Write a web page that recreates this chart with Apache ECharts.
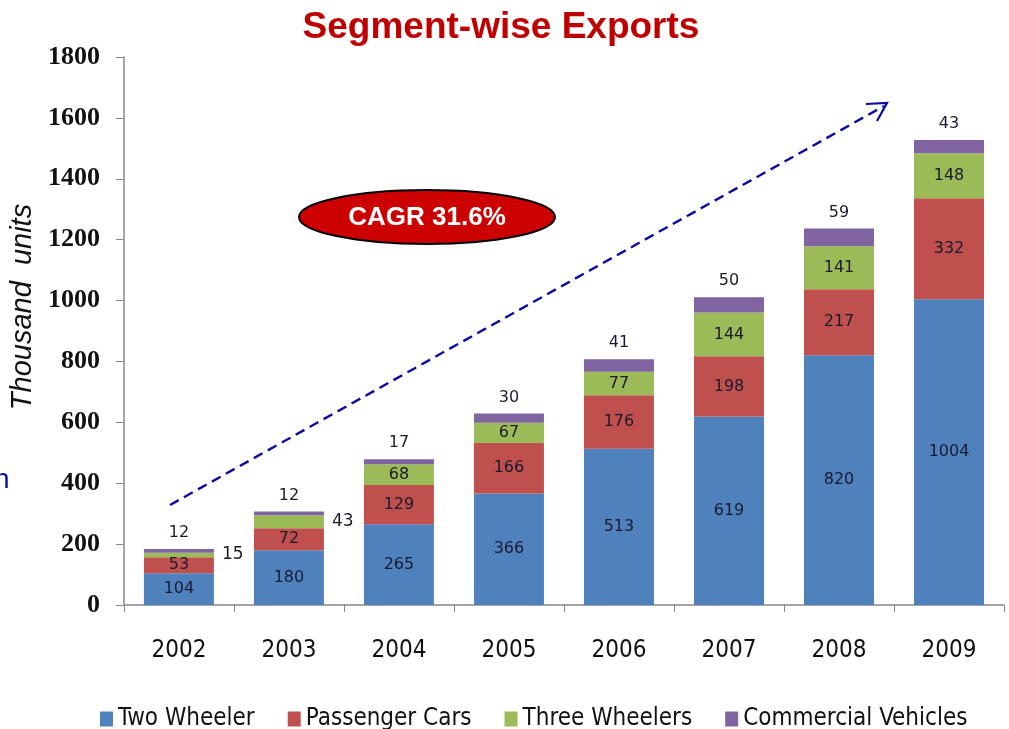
<!DOCTYPE html>
<html>
<head>
<meta charset="utf-8">
<script src="https://cdn.jsdelivr.net/npm/echarts@6/dist/echarts.min.js"></script>
<style>
html, body { margin: 0; padding: 0; background: #fff; }
#chart { width: 1009px; height: 729px; }
</style>
</head>
<body>
<div id="chart"></div>
<script>
var years = ['2002', '2003', '2004', '2005', '2006', '2007', '2008', '2009'];
var twoWheeler = [104, 180, 265, 366, 513, 619, 820, 1004];
var passengerCars = [53, 72, 129, 166, 176, 198, 217, 332];
var threeWheelers = [15, 43, 68, 67, 77, 144, 141, 148];
var commercialVehicles = [12, 12, 17, 30, 41, 50, 59, 43];

var COLORS = ['#4f81bd', '#c0504d', '#9bbb59', '#8064a2'];
var LABEL_COLOR = '#1a1a2e';

function insideLabel() {
	return {
		show: true,
		position: 'inside',
		color: LABEL_COLOR,
		fontFamily: 'DejaVu Sans',
		fontSize: 16
	};
}

// three wheelers: the two small early bars carry their label on the right
var threeData = threeWheelers.map(function(v, i) {
	var item = { value: v };
	if (i < 2) {
		item.label = { position: 'right', distance: 8, fontSize: 17 };
	}
	return item;
});

var chart = echarts.init(document.getElementById('chart'));
chart.setOption({
	animation: false,
	color: COLORS,
	title: {
		text: 'Segment-wise Exports',
		left: 496,
		top: 4,
		textAlign: 'center',
		textStyle: {
			color: '#c00000',
			fontFamily: 'Liberation Sans',
			fontWeight: 'bold',
			fontSize: 37
		}
	},
	legend: {
		top: 702,
		left: 95,
		itemWidth: 13,
		itemHeight: 15,
		itemGap: 33,
		icon: 'rect',
		textStyle: {
			fontFamily: 'DejaVu Sans Condensed',
			fontSize: 24,
			color: '#111'
		},
		data: ['Two Wheeler', 'Passenger Cars', 'Three Wheelers', 'Commercial Vehicles']
	},
	grid: {
		left: 122,
		right: 5,
		top: 57,
		bottom: 124
	},
	xAxis: {
		type: 'category',
		data: years,
		axisLine: { lineStyle: { color: '#888', width: 1.5 } },
		axisTick: { show: true, length: 7, lineStyle: { color: '#888' } },
		axisLabel: {
			margin: 34,
			color: '#111',
			fontFamily: 'DejaVu Sans Condensed',
			fontSize: 24
		}
	},
	yAxis: {
		type: 'value',
		min: 0,
		max: 1800,
		interval: 200,
		name: 'Thousand  units',
		nameLocation: 'middle',
		nameGap: 74,
		nameRotate: 90,
		nameTextStyle: {
			fontFamily: 'Liberation Sans',
			fontStyle: 'italic',
			fontSize: 29,
			color: '#111',
			padding: [0, 0, 0, 48]
		},
		axisLine: { show: true, lineStyle: { color: '#888', width: 1.5 } },
		axisTick: { show: true, inside: false, length: 8, lineStyle: { color: '#888' } },
		splitLine: { show: false },
		axisLabel: {
			margin: 24,
			color: '#111',
			fontFamily: 'Liberation Serif',
			fontWeight: 'bold',
			fontSize: 26,
			formatter: function(v) { return String(v); }
		}
	},
	series: [
		{
			name: 'Two Wheeler',
			type: 'bar',
			stack: 'total',
			barWidth: 70,
			label: insideLabel(),
			data: twoWheeler
		},
		{
			name: 'Passenger Cars',
			type: 'bar',
			stack: 'total',
			label: insideLabel(),
			data: passengerCars
		},
		{
			name: 'Three Wheelers',
			type: 'bar',
			stack: 'total',
			label: insideLabel(),
			data: threeData
		},
		{
			name: 'Commercial Vehicles',
			type: 'bar',
			stack: 'total',
			label: {
				show: true,
				position: 'top',
				distance: 8,
				color: LABEL_COLOR,
				fontFamily: 'DejaVu Sans',
				fontSize: 16
			},
			data: commercialVehicles
		}
	],
	graphic: [
		{
			type: 'line',
			z: 100,
			shape: { x1: 170, y1: 505, x2: 884, y2: 106 },
			style: { stroke: '#0a0aa0', lineWidth: 2.4, lineDash: [10, 6] }
		},
		{
			type: 'polyline',
			z: 100,
			shape: { points: [[866, 104], [887, 103], [877, 121]] },
			style: { stroke: '#0a0aa0', lineWidth: 2.2, fill: null }
		},
		{
			type: 'ellipse',
			z: 100,
			shape: { cx: 427, cy: 217, rx: 128, ry: 27 },
			style: { fill: '#cc0000', stroke: '#000', lineWidth: 2 }
		},
		{
			type: 'text',
			z: 101,
			x: 427,
			y: 218,
			style: {
				text: 'CAGR 31.6%',
				fill: '#fff',
				font: 'bold 26px "Liberation Sans"',
				align: 'center',
				verticalAlign: 'middle'
			}
		},
		{
			type: 'text',
			z: 101,
			x: -6,
			y: 480,
			style: {
				text: 'n',
				fill: '#1010a0',
				font: '28px "Liberation Sans"',
				verticalAlign: 'middle'
			}
		}
	]
});
</script>
</body>
</html>
